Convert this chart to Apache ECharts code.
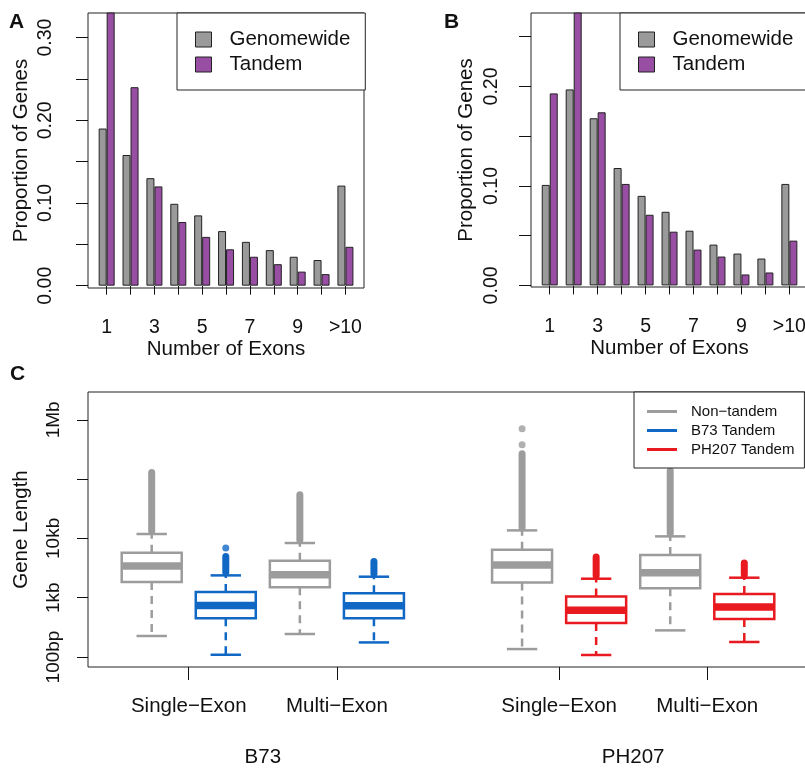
<!DOCTYPE html>
<html>
<head>
<meta charset="utf-8">
<script src="https://cdn.jsdelivr.net/npm/echarts@6/dist/echarts.min.js"></script>
<style>
  html, body { margin: 0; padding: 0; background: #fff; }
  #main { width: 805px; height: 768px; }
</style>
</head>
<body>
<div id="main"></div>
<script>
// panels A and B: proportion of genes by number of exons
var exonCats = ['1', '2', '3', '4', '5', '6', '7', '8', '9', '10', '>10'];
var exonPos = [1, 2, 3, 4, 5, 6, 7, 8, 9, 10, 11];
var aGenomewide = [0.190, 0.158, 0.130, 0.099, 0.085, 0.066, 0.053, 0.043, 0.035, 0.031, 0.121];
var aTandem = [0.335, 0.240, 0.120, 0.077, 0.059, 0.044, 0.035, 0.026, 0.017, 0.014, 0.047];
var bGenomewide = [0.101, 0.197, 0.168, 0.118, 0.090, 0.074, 0.055, 0.041, 0.032, 0.027, 0.102];
var bTandem = [0.193, 0.280, 0.174, 0.102, 0.071, 0.054, 0.036, 0.029, 0.011, 0.013, 0.045];
var aTicks = [0, 0.05, 0.10, 0.15, 0.20, 0.25, 0.30];
var aLabels = [0, 0.10, 0.20, 0.30];
var bTicks = [0, 0.05, 0.10, 0.15, 0.20, 0.25];
var bLabels = [0, 0.10, 0.20];
var exonLabelPos = [1, 3, 5, 7, 9, 11];

// panel C: gene length boxplots (bp)
var boxPos = [1, 2, 3, 4, 6, 7, 8, 9];
var boxGroup = [0, 1, 0, 1, 0, 2, 0, 2];
var boxLow = [226, 109, 244, 176, 136, 108, 281, 179];
var boxQ1 = [1841, 448, 1493, 448, 1811, 374, 1436, 437];
var boxMed = [3427, 741, 2443, 733, 3556, 611, 2643, 697];
var boxQ3 = [5740, 1248, 4207, 1183, 6442, 1052, 5248, 1153];
var boxHigh = [11860, 2377, 8355, 2259, 13650, 2089, 10820, 2173];
var outlierTop = [129700, 4966, 54600, 4093, 268000, 4853, 138700, 3846];
var loneOutliers = [[2, 6887, 1], [6, 380000, 0], [6, 708000, 0]];
var groupNames = ['Non\u2212tandem', 'B73 Tandem', 'PH207 Tandem'];
var lengthTickBp = [100, 1000, 10000, 100000, 1000000];
var lengthTickText = ['100bp', '1kb', '10kb', '', '1Mb'];
var classPos = [1.5, 3.5, 6.5, 8.5];
var classNames = ['Single\u2212Exon', 'Multi\u2212Exon', 'Single\u2212Exon', 'Multi\u2212Exon'];
var linePos = [2.5, 7.5];
var lineNames = ['B73', 'PH207'];

var GREY_BAR = '#9a9a9a', PURPLE = '#984ea3';
var groupColors = ['#9c9c9c', '#1068c4', '#e8191f'];
var INK = '#111';
var lg = Math.log10;

function pairs(vals) {
  return exonPos.map(function (p, i) { return [p, vals[i]]; });
}

function barAxes(grid, ticks, labels, labelMargin, nameGap) {
  var x = {
    type: 'value', gridIndex: grid, min: 0.218, max: 11.778, offset: 3,
    name: 'Number of Exons', nameLocation: 'middle', nameGap: 48, nameMoveOverlap: false,
    nameTextStyle: { fontSize: 20.5, color: INK },
    axisLine: { show: false }, splitLine: { show: false },
    axisTick: { show: true, length: 9, customValues: exonPos, lineStyle: { color: INK } },
    axisLabel: {
      customValues: exonLabelPos, margin: 27, fontSize: 19.5, color: INK,
      formatter: function (v) { return exonCats[Math.round(v) - 1]; }
    }
  };
  var y = {
    type: 'value', gridIndex: grid, min: grid === 0 ? -0.0028 : -0.0016, max: grid === 0 ? 0.3297 : 0.2738,
    name: 'Proportion of Genes', nameLocation: 'middle', nameGap: nameGap, nameMoveOverlap: false,
    nameTextStyle: { fontSize: 20.5, color: INK },
    axisLine: { show: false }, splitLine: { show: false },
    axisTick: { show: true, length: 12, customValues: ticks, lineStyle: { color: INK } },
    axisLabel: {
      customValues: labels, rotate: 90, margin: labelMargin, fontSize: 19.5, color: INK,
      formatter: function (v) { return v.toFixed(2); }
    }
  };
  return [x, y];
}

function barSeries(name, grid, vals, color) {
  return {
    name: name, type: 'bar', xAxisIndex: grid, yAxisIndex: grid,
    data: pairs(vals), barWidth: 8, barGap: '0%', clip: true, silent: true,
    itemStyle: { color: color, borderColor: '#222', borderWidth: 1 }
  };
}

function boxRenderer(color) {
  return function (params, api) {
    var x = api.value(0);
    var low = api.coord([x, api.value(1)]);
    var q1 = api.coord([x, api.value(2)]);
    var med = api.coord([x, api.value(3)]);
    var q3 = api.coord([x, api.value(4)]);
    var high = api.coord([x, api.value(5)]);
    var top = api.coord([x, api.value(6)]);
    var unit = api.size([1, 0])[0];
    var half = unit * 0.405, staple = unit * 0.205;
    var cx = med[0];
    var dashed = { stroke: color, lineWidth: 2.5, lineDash: [8, 6] };
    var solid = { stroke: color, lineWidth: 2.5 };
    return {
      type: 'group',
      children: [
        { type: 'line', shape: { x1: cx, y1: q1[1], x2: cx, y2: low[1] }, style: dashed },
        { type: 'line', shape: { x1: cx, y1: q3[1], x2: cx, y2: high[1] }, style: dashed },
        { type: 'line', shape: { x1: cx - staple, y1: low[1], x2: cx + staple, y2: low[1] }, style: solid },
        { type: 'line', shape: { x1: cx - staple, y1: high[1], x2: cx + staple, y2: high[1] }, style: solid },
        { type: 'line', shape: { x1: cx, y1: high[1] - 3, x2: cx, y2: top[1] },
          style: { stroke: color, lineWidth: 7, lineCap: 'round' } },
        { type: 'rect', shape: { x: cx - half, y: q3[1], width: half * 2, height: q1[1] - q3[1] },
          style: { fill: '#fff', stroke: color, lineWidth: 2.5 } },
        { type: 'line', shape: { x1: cx - half, y1: med[1], x2: cx + half, y2: med[1] },
          style: { stroke: color, lineWidth: 7.5 } }
      ]
    };
  };
}

var boxSeries = groupNames.map(function (name, g) {
  var rows = [];
  boxPos.forEach(function (p, i) {
    if (boxGroup[i] !== g) return;
    rows.push([p, lg(boxLow[i]), lg(boxQ1[i]), lg(boxMed[i]), lg(boxQ3[i]), lg(boxHigh[i]), lg(outlierTop[i])]);
  });
  return {
    name: name, type: 'custom', xAxisIndex: 2, yAxisIndex: 2, silent: true,
    itemStyle: { color: groupColors[g] },
    renderItem: boxRenderer(groupColors[g]), data: rows
  };
});

var axA = barAxes(0, aTicks, aLabels, 32, 56);
var axB = barAxes(1, bTicks, bLabels, 29, 54);

var chart = echarts.init(document.getElementById('main'), null, { renderer: 'canvas' });
chart.setOption({
  animation: false,
  backgroundColor: '#fff',
  textStyle: { fontFamily: 'Liberation Sans, Arial, sans-serif' },
  title: [
    { text: 'A', left: 9, top: 12, padding: 0, textStyle: { fontSize: 21, fontWeight: 'bold', color: INK } },
    { text: 'B', left: 444, top: 12, padding: 0, textStyle: { fontSize: 21, fontWeight: 'bold', color: INK } },
    { text: 'C', left: 10, top: 364, padding: 0, textStyle: { fontSize: 21, fontWeight: 'bold', color: INK } }
  ],
  grid: [
    { left: 88, top: 13, width: 276, height: 275, show: true, borderColor: '#222', borderWidth: 1, outerBoundsMode: 'none' },
    { left: 531, top: 13, width: 277, height: 274, show: true, borderColor: '#222', borderWidth: 1, outerBoundsMode: 'none' },
    { left: 88, top: 392, width: 720, height: 275, show: true, borderColor: '#222', borderWidth: 1, outerBoundsMode: 'none' }
  ],
  legend: [
    {
      left: 177, top: 13, orient: 'vertical', data: ['Genomewide', 'Tandem'], selectedMode: false,
      icon: 'rect', itemWidth: 16, itemHeight: 15, itemGap: 4, padding: [16, 15, 15, 18],
      backgroundColor: '#fff', borderColor: '#222', borderWidth: 1,
      itemStyle: { borderColor: '#222', borderWidth: 1 },
      textStyle: { fontSize: 20.5, color: INK, padding: [0, 0, 0, 13] }
    },
    {
      left: 620, top: 13, orient: 'vertical', data: ['Genomewide', 'Tandem'], selectedMode: false,
      icon: 'rect', itemWidth: 16, itemHeight: 15, itemGap: 4, padding: [16, 15, 15, 18],
      backgroundColor: '#fff', borderColor: '#222', borderWidth: 1,
      itemStyle: { borderColor: '#222', borderWidth: 1 },
      textStyle: { fontSize: 20.5, color: INK, padding: [0, 0, 0, 13] }
    },
    {
      left: 634, top: 392, orient: 'vertical', data: groupNames, selectedMode: false,
      icon: 'rect', itemWidth: 30, itemHeight: 3, itemGap: 4, padding: [12, 10, 11, 13],
      backgroundColor: '#fff', borderColor: '#222', borderWidth: 1,
      itemStyle: { borderWidth: 0 },
      textStyle: { fontSize: 15, color: INK, padding: [0, 0, 0, 9] }
    }
  ],
  xAxis: [
    axA[0], axB[0],
    {
      type: 'value', gridIndex: 2, min: 0.14, max: 9.86, position: 'bottom',
      axisLine: { show: false }, splitLine: { show: false },
      axisTick: { show: true, length: 13, customValues: classPos, lineStyle: { color: INK } },
      axisLabel: {
        customValues: classPos, margin: 29, fontSize: 20.5, color: INK,
        formatter: function (v) { return classNames[classPos.indexOf(v)]; }
      }
    },
    {
      type: 'value', gridIndex: 2, min: 0.14, max: 9.86, position: 'bottom',
      axisLine: { show: false }, splitLine: { show: false }, axisTick: { show: false },
      axisLabel: {
        customValues: linePos, margin: 80, fontSize: 20.5, color: INK,
        formatter: function (v) { return lineNames[linePos.indexOf(v)]; }
      }
    }
  ],
  yAxis: [
    axA[1], axB[1],
    {
      type: 'value', gridIndex: 2, min: 1.831, max: 6.469,
      name: 'Gene Length', nameLocation: 'middle', nameGap: 56, nameMoveOverlap: false,
      nameTextStyle: { fontSize: 20.5, color: INK },
      axisLine: { show: false }, splitLine: { show: false },
      axisTick: { show: true, length: 11, customValues: lengthTickBp.map(lg), lineStyle: { color: INK } },
      axisLabel: {
        customValues: lengthTickBp.filter(function (b, i) { return lengthTickText[i]; }).map(lg),
        rotate: 90, margin: 25, fontSize: 19, color: INK,
        formatter: function (v) {
          for (var i = 0; i < lengthTickBp.length; i++) {
            if (Math.abs(lg(lengthTickBp[i]) - v) < 1e-6) return lengthTickText[i];
          }
          return '';
        }
      }
    }
  ],
  series: [
    barSeries('Genomewide', 0, aGenomewide, GREY_BAR),
    barSeries('Tandem', 0, aTandem, PURPLE),
    barSeries('Genomewide', 1, bGenomewide, GREY_BAR),
    barSeries('Tandem', 1, bTandem, PURPLE)
  ].concat(boxSeries).concat([{
    type: 'scatter', xAxisIndex: 2, yAxisIndex: 2, symbolSize: 7, silent: true,
    data: loneOutliers.map(function (o) {
      return { value: [o[0], lg(o[1])], itemStyle: { color: groupColors[o[2]] } };
    })
  }])
});
</script>
</body>
</html>
